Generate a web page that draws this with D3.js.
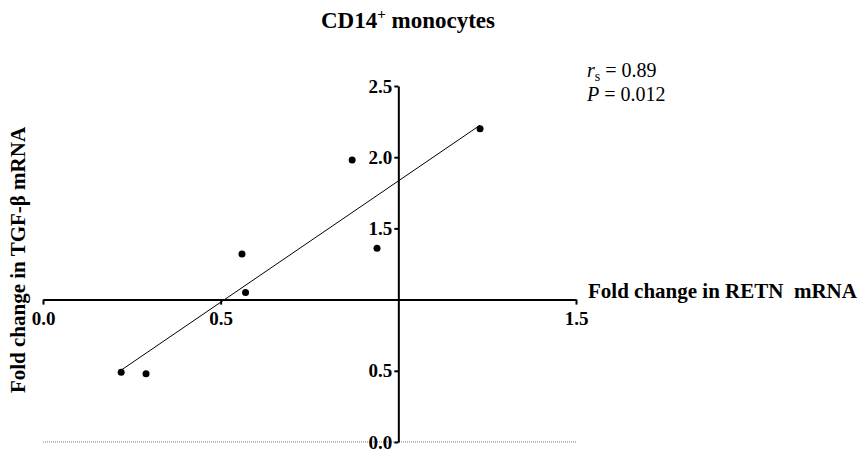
<!DOCTYPE html>
<html>
<head>
<meta charset="utf-8">
<script src="https://cdn.jsdelivr.net/npm/d3@7"></script>
<style>
  body { margin: 0; background: #fff; }
  svg { display: block; font-family: "Liberation Serif", "Times New Roman", serif; }
  .axis path, .axis line { stroke: #000; stroke-width: 2px; }
  .axis text { font-size: 19px; font-weight: bold; fill: #000; font-family: "Liberation Serif", serif; }
</style>
</head>
<body>
<div id="chart-area"></div>
<script>
// fold change values
var retn = [0.22, 0.29, 0.56, 0.57, 0.87, 0.94, 1.23];
var tgfb = [0.49, 0.48, 1.32, 1.05, 1.98, 1.36, 2.20];
var xTicks = [0.0, 0.5, 1.5];
var yTicks = [0.0, 0.5, 1.5, 2.0, 2.5];

var width = 859;
var height = 452;

var svg = d3.select('#chart-area')
    .append('svg')
        .attr('width', width)
        .attr('height', height);

var x = d3.scaleLinear().domain([0, 1.5]).range([43, 576]);
var y = d3.scaleLinear().domain([0, 2.5]).range([442, 86]);

// dotted baseline at y = 0
svg.append('line')
    .attr('x1', x(0)).attr('x2', x(1.5))
    .attr('y1', y(0)).attr('y2', y(0))
    .attr('stroke', '#777')
    .attr('stroke-width', 1)
    .attr('stroke-dasharray', '1,1');

// x axis crosses at y = 1.0
var bottomAxis = d3.axisBottom(x)
    .tickValues(xTicks)
    .tickSize(5)
    .tickSizeOuter(0)
    .tickPadding(7)
    .tickFormat(d3.format('.1f'));

svg.append('g')
    .attr('class', 'axis')
    .attr('transform', 'translate(0, ' + y(1) + ')')
    .call(bottomAxis);

// y axis crosses at x = 1.0
var leftAxis = d3.axisLeft(y)
    .tickValues(yTicks)
    .tickSize(4)
    .tickSizeOuter(0)
    .tickPadding(2)
    .tickFormat(d3.format('.1f'));

svg.append('g')
    .attr('class', 'axis')
    .attr('transform', 'translate(' + x(1) + ', 0)')
    .call(leftAxis);

// least squares line over the data range
var n = retn.length;
var mx = d3.mean(retn), my = d3.mean(tgfb);
var sxy = 0, sxx = 0;
for (var i = 0; i < n; i++) {
    sxy += (retn[i] - mx) * (tgfb[i] - my);
    sxx += (retn[i] - mx) * (retn[i] - mx);
}
var slope = sxy / sxx;
var icpt = my - slope * mx;
var x0 = d3.min(retn), x1 = d3.max(retn);

svg.append('line')
    .attr('x1', x(x0)).attr('y1', y(icpt + slope * x0))
    .attr('x2', x(x1)).attr('y2', y(icpt + slope * x1))
    .attr('stroke', '#000')
    .attr('stroke-width', 1);

svg.selectAll('circle')
    .data(retn)
    .enter()
    .append('circle')
        .attr('cx', function(d) { return x(d); })
        .attr('cy', function(d, i) { return y(tgfb[i]); })
        .attr('r', 3.5)
        .attr('fill', '#000');

// title
var title = svg.append('text')
    .attr('x', 408)
    .attr('y', 28)
    .attr('text-anchor', 'middle')
    .attr('font-size', '23px')
    .attr('font-weight', 'bold');
title.append('tspan').text('CD14');
title.append('tspan').attr('font-size', '15px').attr('dy', -9).text('+');
title.append('tspan').attr('dy', 9).text(' monocytes');

// stats
var st1 = svg.append('text')
    .attr('x', 587).attr('y', 77)
    .attr('font-size', '20px');
st1.append('tspan').attr('font-style', 'italic').text('r');
st1.append('tspan').attr('font-size', '14px').attr('dy', 4).text('s');
st1.append('tspan').attr('dy', -4).text(' = 0.89');

var st2 = svg.append('text')
    .attr('x', 587).attr('y', 101)
    .attr('font-size', '20px');
st2.append('tspan').attr('font-style', 'italic').text('P');
st2.append('tspan').text(' = 0.012');

// axis labels
svg.append('text')
    .attr('x', 588)
    .attr('y', 298)
    .attr('font-size', '21px')
    .attr('font-weight', 'bold')
    .text('Fold change in RETN\u00a0 mRNA');

svg.append('text')
    .attr('x', -260)
    .attr('y', 25)
    .attr('transform', 'rotate(-90)')
    .attr('text-anchor', 'middle')
    .attr('font-size', '21px')
    .attr('font-weight', 'bold')
    .text('Fold change in TGF-\u03b2 mRNA');
</script>
</body>
</html>
